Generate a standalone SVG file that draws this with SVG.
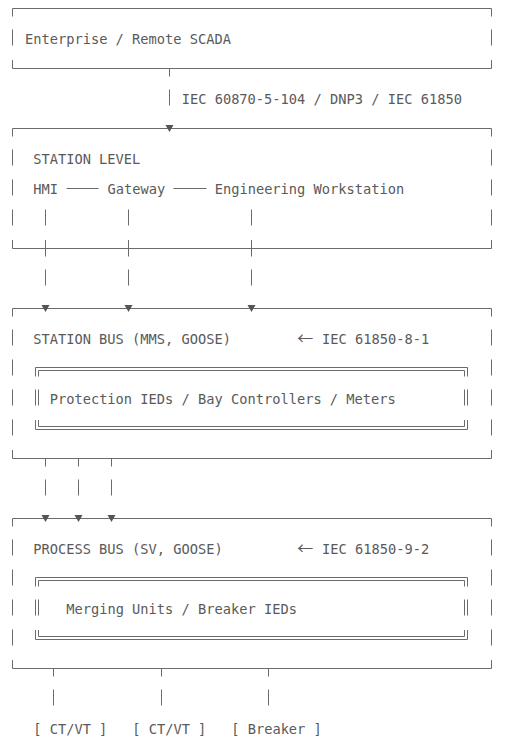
<svg xmlns="http://www.w3.org/2000/svg" width="508" height="746" viewBox="0 0 508 746">
<style>
.ln{fill:none;stroke:#6b6b6b;stroke-width:1}
.t{font-family:"DejaVu Sans Mono","Liberation Mono",monospace;font-size:13.7px;fill:#5a5a5a}
.arw{font-family:"Noto Sans CJK SC","DejaVu Sans",sans-serif;font-size:16px}
.tri{fill:#555}
</style>
<defs>
<path id="tri" d="M-4 -3.5H4L0 3.5Z"/>
</defs>
<rect width="508" height="746" fill="#ffffff"/>

<g id="enterprise">
<path class="ln" d="M12.5 8.5H491.5M12.5 68.5H491.5M12.5 8.5V16.5M12.5 29.5V45.5M12.5 60V68.5M491.5 8.5V16.5M491.5 29.5V45.5M491.5 60V68.5"/>
<text class="t" x="24.97" y="43.5">Enterprise / Remote SCADA</text>
</g>

<g id="station-level">
<path class="ln" d="M12.5 128.5H491.5M12.5 248.5H491.5M12.5 128.5V136.5M12.5 149.5V165.5M12.5 179.5V195.5M12.5 209.5V225.5M12.5 240V248.5M491.5 128.5V136.5M491.5 149.5V165.5M491.5 179.5V195.5M491.5 209.5V225.5M491.5 240V248.5"/>
<text class="t" x="33.2" y="163.5">STATION LEVEL</text>
<g id="hmi"><text class="t" x="33.2" y="193.5">HMI</text></g>
<g id="gateway"><text class="t" x="107.5" y="193.5">Gateway</text></g>
<g id="engineering-workstation"><text class="t" x="214.7" y="193.5">Engineering Workstation</text></g>
</g>

<g id="station-bus">
<path class="ln" d="M12.5 308.5H491.5M12.5 458.5H491.5M12.5 308.5V316.5M12.5 329.5V345.5M12.5 359.5V375.5M12.5 389.5V405.5M12.5 419.5V435.5M12.5 450V458.5M491.5 308.5V316.5M491.5 329.5V345.5M491.5 359.5V375.5M491.5 389.5V405.5M491.5 419.5V435.5M491.5 450V458.5"/>
<text class="t" x="33.2" y="343.5">STATION BUS (MMS, GOOSE)</text>
<text class="t" x="297.2" y="343.5"><tspan class="arw">← </tspan><tspan x="322">IEC 61850-8-1</tspan></text>
<g id="protection-ieds">
<path class="ln" d="M35.5 367.5H467.5M38.5 370.5H464.5M38.5 426.5H464.5M35.5 429.5H467.5M35.5 367.5V376.5M38.5 370.5V376.5M35.5 389.5V405.5M38.5 389.5V405.5M35.5 420V429.5M38.5 420V426.5M467.5 367.5V376.5M464.5 370.5V376.5M467.5 389.5V405.5M464.5 389.5V405.5M467.5 420V429.5M464.5 420V426.5"/>
<text class="t" x="49.7" y="403.5">Protection IEDs / Bay Controllers / Meters</text>
</g>
</g>

<g id="process-bus">
<path class="ln" d="M12.5 518.5H491.5M12.5 668.5H491.5M12.5 518.5V526.5M12.5 539.5V555.5M12.5 569.5V585.5M12.5 599.5V615.5M12.5 629.5V645.5M12.5 660V668.5M491.5 518.5V526.5M491.5 539.5V555.5M491.5 569.5V585.5M491.5 599.5V615.5M491.5 629.5V645.5M491.5 660V668.5"/>
<text class="t" x="33.2" y="553.5">PROCESS BUS (SV, GOOSE)</text>
<text class="t" x="297.2" y="553.5"><tspan class="arw">← </tspan><tspan x="322">IEC 61850-9-2</tspan></text>
<g id="merging-units">
<path class="ln" d="M35.5 577.5H467.5M38.5 580.5H464.5M38.5 636.5H464.5M35.5 639.5H467.5M35.5 577.5V586.5M38.5 580.5V586.5M35.5 599.5V615.5M38.5 599.5V615.5M35.5 630V639.5M38.5 630V636.5M467.5 577.5V586.5M464.5 580.5V586.5M467.5 599.5V615.5M464.5 599.5V615.5M467.5 630V639.5M464.5 630V636.5"/>
<text class="t" x="66.2" y="613.5">Merging Units / Breaker IEDs</text>
</g>
</g>

<g id="ctvt-1"><text class="t" x="33.2" y="733.5">[ CT/VT ]</text></g>
<g id="ctvt-2"><text class="t" x="132.2" y="733.5">[ CT/VT ]</text></g>
<g id="breaker"><text class="t" x="231.2" y="733.5">[ Breaker ]</text></g>

<g id="connectors">
<path class="ln" d="M169.5 68.5V76.5M169.5 89.5V105.5M45.5 209.5V225.5M45.5 240V256.5M45.5 269.5V285.5M128.5 209.5V225.5M128.5 240V256.5M128.5 269.5V285.5M251.5 209.5V225.5M251.5 240V256.5M251.5 269.5V285.5M45.5 458.5V466.5M45.5 479.5V495.5M78.5 458.5V466.5M78.5 479.5V495.5M111.5 458.5V466.5M111.5 479.5V495.5M53.5 668.5V676.5M53.5 689.5V705.5M161.5 668.5V676.5M161.5 689.5V705.5M268.5 668.5V676.5M268.5 689.5V705.5M66.5 188.5H98.5M173.5 188.5H206.5"/>
<use href="#tri" class="tri" x="169.5" y="128.5"/>
<use href="#tri" class="tri" x="45.5" y="308.5"/>
<use href="#tri" class="tri" x="128.5" y="308.5"/>
<use href="#tri" class="tri" x="251.5" y="308.5"/>
<use href="#tri" class="tri" x="45.5" y="518.5"/>
<use href="#tri" class="tri" x="78.5" y="518.5"/>
<use href="#tri" class="tri" x="111.5" y="518.5"/>
<text class="t" x="181.7" y="103.5">IEC 60870-5-104 / DNP3 / IEC 61850</text>
</g>
</svg>
